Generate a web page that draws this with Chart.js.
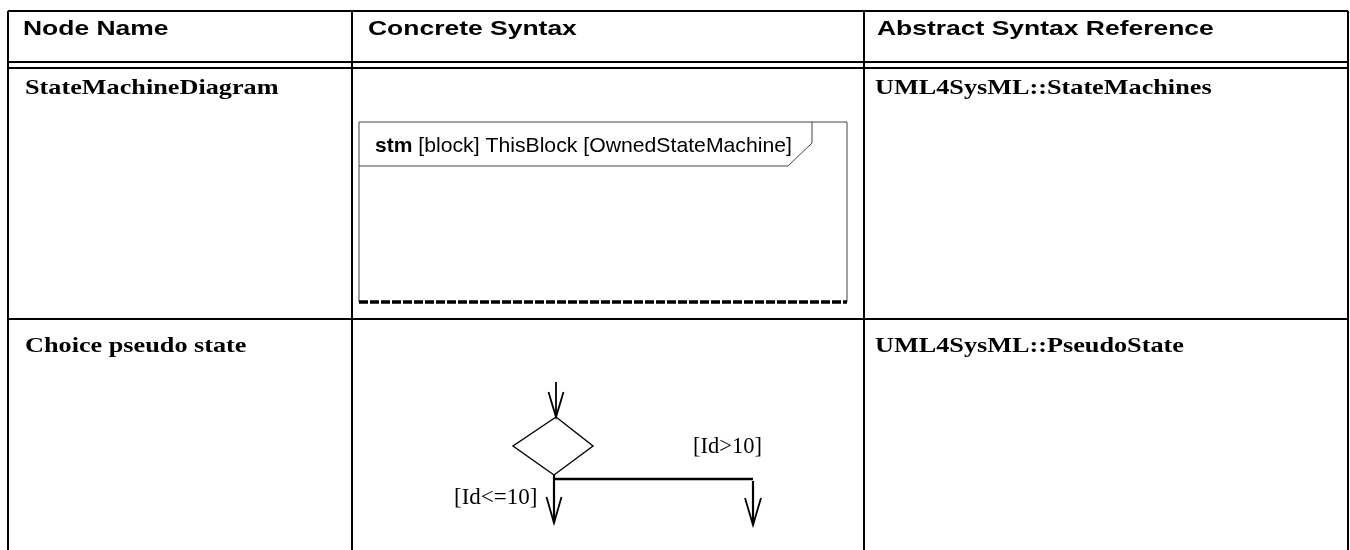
<!DOCTYPE html>
<html>
<head>
<meta charset="utf-8">
<script src="https://cdn.jsdelivr.net/npm/chart.js@4"></script>
<style>
  html, body { margin: 0; padding: 0; background: #fff; }
  #wrap { width: 1350px; height: 550px; position: relative; }
</style>
</head>
<body>
<div id="wrap"><canvas id="tableChart"></canvas></div>
<script>
// table content
const headers = ["Node Name", "Concrete Syntax", "Abstract Syntax Reference"];
const nodeNames = ["StateMachineDiagram", "Choice pseudo state"];
const syntaxRefs = ["UML4SysML::StateMachines", "UML4SysML::PseudoState"];
const frameKeyword = "stm";
const frameLabel = " [block] ThisBlock [OwnedStateMachine]";
const guardLabels = ["[Id<=10]", "[Id>10]"];

// layout, in the units of the hidden scales (0..1350 by 0..550)
const colEdges = [8, 352, 864, 1348];
const rowEdges = [11, 62, 68, 319, 550];

const chartTable = document.getElementById("tableChart");

const tablePlugin = {
  id: "tablePlugin",
  afterDraw(chart) {
    const ctx = chart.ctx;
    const X = (v) => chart.scales.x.getPixelForValue(v);
    const Y = (v) => chart.scales.y.getPixelForValue(v);

    const line = (pts, width, color) => {
      ctx.beginPath();
      ctx.moveTo(X(pts[0][0]), Y(pts[0][1]));
      for (let i = 1; i < pts.length; i++) ctx.lineTo(X(pts[i][0]), Y(pts[i][1]));
      ctx.lineWidth = width;
      ctx.strokeStyle = color || "#000";
      ctx.stroke();
    };

    // the source table was scaled wider than tall, so its text is stretched
    const text = (str, x, y, font, sx) => {
      ctx.save();
      ctx.translate(X(x), Y(y));
      ctx.scale(sx || 1, 1);
      ctx.font = font;
      ctx.fillStyle = "#000";
      ctx.textBaseline = "alphabetic";
      ctx.fillText(str, 0, 0);
      ctx.restore();
    };

    const arrow = (x, tipY, half, len) => {
      line([[x - half, tipY - len], [x, tipY], [x + half, tipY - len]], 1.8);
    };

    ctx.save();
    ctx.lineCap = "butt";

    // grid
    const left = colEdges[0], right = colEdges[colEdges.length - 1];
    [0, 1, 2, 3].forEach((r) => line([[left, rowEdges[r]], [right, rowEdges[r]]], 2));
    colEdges.forEach((cx) => line([[cx, rowEdges[0]], [cx, rowEdges[4]]], 2));

    // header row
    const headFont = "bold 21px 'Liberation Sans', Arial, sans-serif";
    text(headers[0], 23, 35, headFont, 1.26);
    text(headers[1], 368, 35, headFont, 1.26);
    text(headers[2], 877, 35, headFont, 1.26);

    // body rows
    const bodyFont = "bold 21.5px 'Liberation Serif', 'Times New Roman', serif";
    const rowBase = [94, 352];
    nodeNames.forEach((n, i) => text(n, 25, rowBase[i], bodyFont, 1.22));
    syntaxRefs.forEach((r, i) => text(r, 875, rowBase[i], bodyFont, 1.22));

    // state machine frame
    line([[359, 302], [359, 122], [847, 122], [847, 302]], 1, "#444");
    line([[359, 166], [788, 166], [812, 143], [812, 122]], 1, "#444");
    ctx.save();
    ctx.setLineDash([9, 2]);
    line([[359, 302], [847, 302]], 3.5);
    ctx.restore();
    const sansFont = "21px 'Liberation Sans', Arial, sans-serif";
    const sansBold = "bold 21px 'Liberation Sans', Arial, sans-serif";
    ctx.font = sansBold;
    const kw = ctx.measureText(frameKeyword).width;
    text(frameKeyword, 375, 152, sansBold);
    text(frameLabel, 375 + kw, 152, sansFont, 1.01);

    // choice pseudo state
    line([[556, 382], [556, 417]], 1.8);
    arrow(556, 417, 7.5, 25);
    line([[556, 417], [593, 446], [554, 475], [513, 446], [556, 417]], 1.4);
    line([[554, 475], [554, 523]], 2.2);
    arrow(554, 523, 7.5, 26);
    line([[553, 479], [753, 479]], 2.5);
    line([[753, 481], [753, 525]], 2.2);
    arrow(753, 525, 8, 27);
    text(guardLabels[0], 454, 504, "23px 'Liberation Serif', 'Times New Roman', serif");
    text(guardLabels[1], 693, 453, "22.5px 'Liberation Serif', 'Times New Roman', serif");

    ctx.restore();
  },
};

const chartTableCanvas = new Chart(chartTable, {
  type: "scatter",
  data: { datasets: [{ data: [] }] },
  options: {
    responsive: true,
    maintainAspectRatio: false,
    animation: false,
    layout: { padding: 0 },
    plugins: { legend: { display: false }, tooltip: { enabled: false } },
    scales: {
      x: { type: "linear", min: 0, max: 1350, display: false },
      y: { type: "linear", min: 0, max: 550, reverse: true, display: false },
    },
  },
  plugins: [tablePlugin],
});
</script>
</body>
</html>
